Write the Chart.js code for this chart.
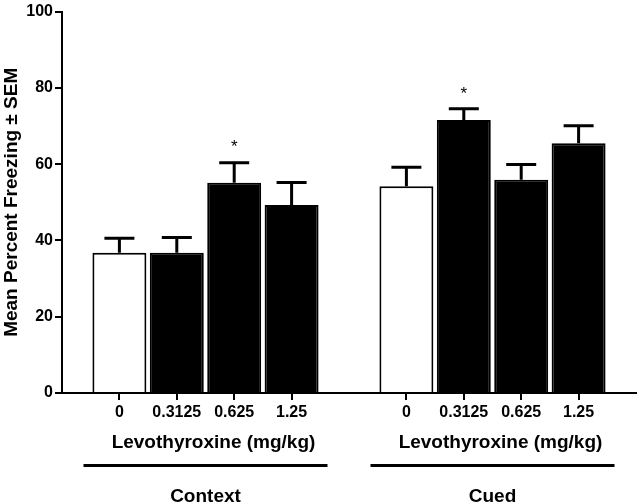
<!DOCTYPE html>
<html>
<head>
<meta charset="utf-8">
<script src="https://cdn.jsdelivr.net/npm/chart.js@4"></script>
<style>
  body { margin: 0; background: #fff; }
  canvas { display: block; }
</style>
</head>
<body>
<canvas id="freezeChart" width="640" height="504"></canvas>
<script>
// data
const doses = ['0', '0.3125', '0.625', '1.25'];
const groups = ['Context', 'Cued'];
const contextMeans = [36.8, 36.8, 55.1, 49.3];
const contextSem = [3.8, 4.0, 5.3, 5.9];
const cuedMeans = [54.2, 71.6, 55.9, 65.5];
const cuedSem = [5.0, 2.9, 4.0, 4.6];
const contextSig = ['', '', '*', ''];
const cuedSig = ['', '*', '', ''];
const yTicks = [0, 20, 40, 60, 80, 100];
const doseTitle = 'Levothyroxine (mg/kg)';
const yTitle = 'Mean Percent Freezing \u00b1 SEM';

const FONT = '"Liberation Sans", Arial, sans-serif';

// blank slots at both ends and between the two groups
const labels = [''].concat(doses, [''], doses, ['']);
const means = [null].concat(contextMeans, [null], cuedMeans, [null]);
const sems = [null].concat(contextSem, [null], cuedSem, [null]);
const sig = [''].concat(contextSig, [''], cuedSig, ['']);
const fills = labels.map(l => l === '0' ? '#ffffff' : '#000000');
const groupRanges = [[1, 4], [6, 9]];

const extras = {
    id: 'extras',
    afterDatasetsDraw(chart) {
        const ctx = chart.ctx;
        const x = chart.scales.x;
        const y = chart.scales.y;
        const meta = chart.getDatasetMeta(0);
        ctx.save();
        ctx.strokeStyle = '#000';
        ctx.fillStyle = '#000';
        ctx.lineWidth = 3;
        meta.data.forEach((bar, i) => {
            if (means[i] === null) return;
            const top = y.getPixelForValue(means[i] + sems[i]);
            ctx.beginPath();
            ctx.moveTo(bar.x, bar.y);
            ctx.lineTo(bar.x, top);
            ctx.moveTo(bar.x - 15, top);
            ctx.lineTo(bar.x + 15, top);
            ctx.stroke();
            if (sig[i]) {
                ctx.font = '17px ' + FONT;
                ctx.textAlign = 'center';
                ctx.textBaseline = 'middle';
                ctx.fillText(sig[i], bar.x, top - 15);
            }
        });
        // group captions under the axis
        groupRanges.forEach((r, g) => {
            const cx = (x.getPixelForValue(r[0]) + x.getPixelForValue(r[1])) / 2;
            ctx.textAlign = 'center';
            ctx.textBaseline = 'middle';
            ctx.font = 'bold 19px ' + FONT;
            ctx.fillText(doseTitle, cx + 8, 443);
            ctx.lineWidth = 3;
            ctx.beginPath();
            ctx.moveTo(cx - 122, 465.5);
            ctx.lineTo(cx + 122, 465.5);
            ctx.stroke();
            ctx.fillText(groups[g], cx, 497);
        });
        ctx.restore();
    }
};

new Chart(document.getElementById('freezeChart'), {
    type: 'bar',
    data: {
        labels: labels,
        datasets: [{
            data: means,
            backgroundColor: fills,
            borderColor: '#000',
            borderWidth: 2,
            borderSkipped: 'bottom',
            categoryPercentage: 1,
            barPercentage: 0.94
        }]
    },
    options: {
        responsive: false,
        animation: false,
        layout: { padding: { top: 10, right: 4, left: 0, bottom: 0 } },
        plugins: {
            legend: { display: false },
            tooltip: { enabled: false }
        },
        scales: {
            x: {
                offset: false,
                grid: {
                    offset: false,
                    drawOnChartArea: false,
                    tickLength: 7,
                    lineWidth: 2,
                    color: c => (c.tick && c.tick.label === '') ? 'rgba(0,0,0,0)' : '#000'
                },
                border: { display: true, color: '#000', width: 2 },
                ticks: {
                    autoSkip: false,
                    maxRotation: 0,
                    padding: 3,
                    color: '#000',
                    font: { family: FONT, size: 16, weight: 'bold' }
                },
                afterFit: s => { s.height = 111; }
            },
            y: {
                min: 0,
                max: 100,
                afterBuildTicks: s => { s.ticks = yTicks.map(v => ({ value: v })); },
                grid: {
                    drawOnChartArea: false,
                    tickLength: 7,
                    lineWidth: 2,
                    color: '#000'
                },
                border: { display: true, color: '#000', width: 2 },
                ticks: {
                    padding: 2,
                    color: '#000',
                    font: { family: FONT, size: 16, weight: 'bold' }
                },
                title: {
                    display: true,
                    text: yTitle,
                    color: '#000',
                    padding: { top: 0, bottom: 0 },
                    font: { family: FONT, size: 19, weight: 'bold' }
                },
                afterFit: s => { s.width = 62; }
            }
        }
    },
    plugins: [extras]
});
</script>
</body>
</html>
